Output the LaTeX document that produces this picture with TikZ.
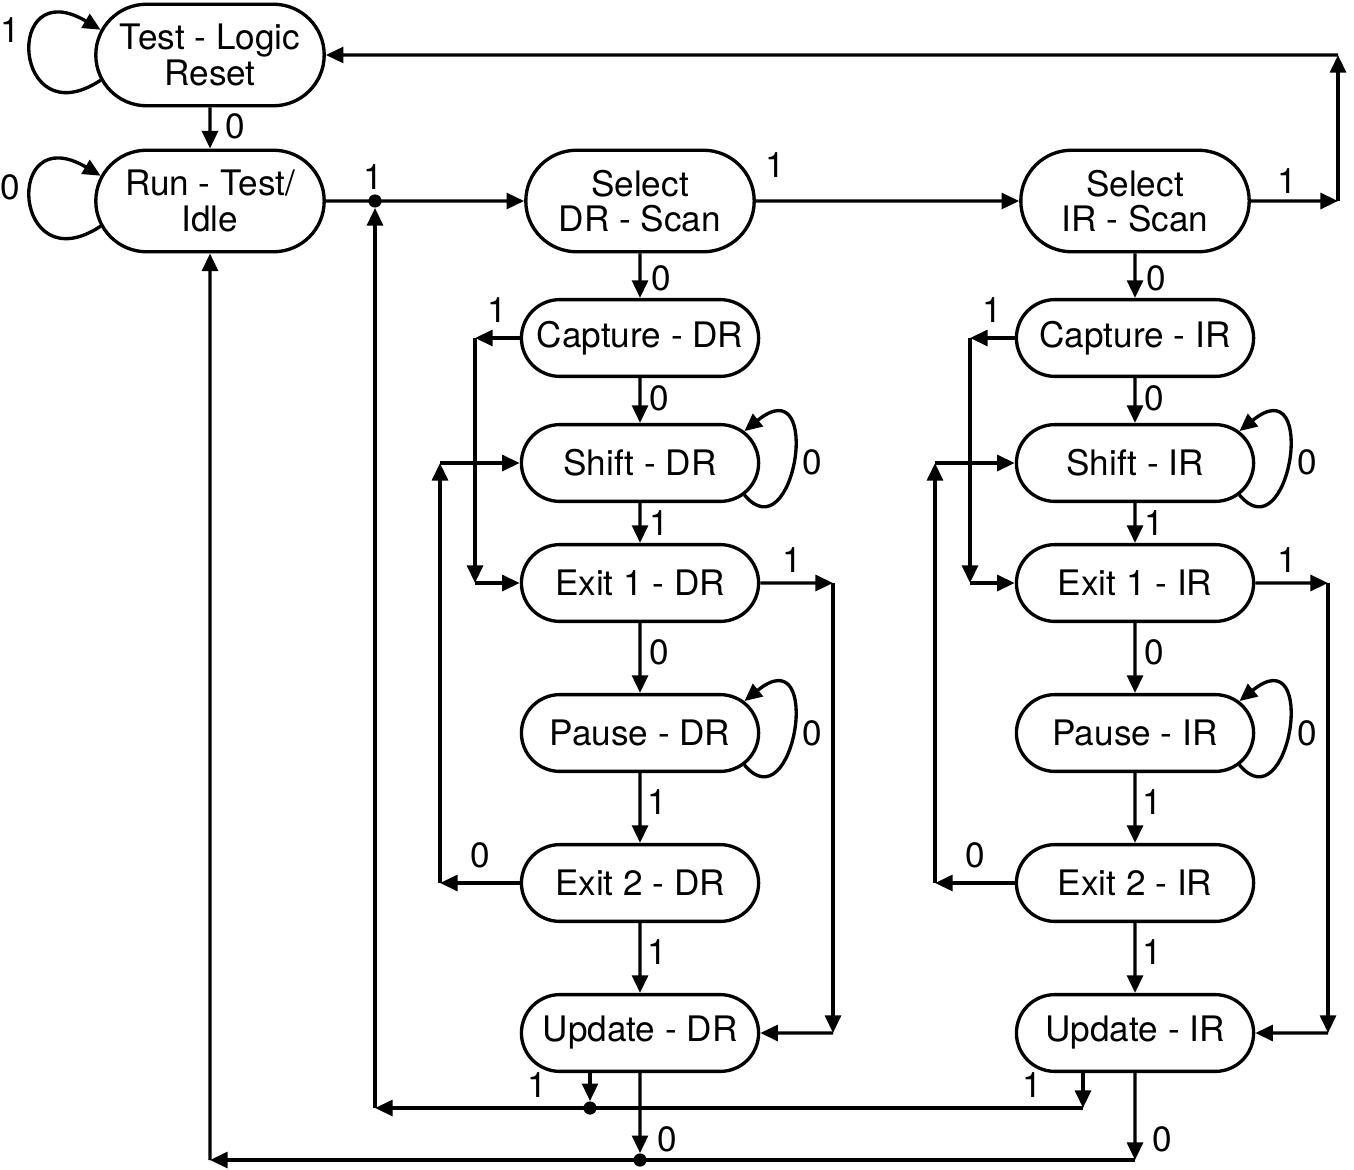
\documentclass[tikz,border=0pt]{standalone}
\usepackage{fontspec}
\setmainfont{TeX Gyre Heros}
\usetikzlibrary{arrows.meta,shapes.misc,positioning}
\tikzset{state/.style={
         draw,shape=rounded rectangle,line width=1.9pt,inner sep=0pt,
         minimum width=135pt,minimum height=43.7pt,align=center,
         font=\fontsize{20}{20}\selectfont}}
\tikzset{statebig/.style={
         state,minimum width=130pt,minimum height=57.8pt}}
\tikzset{arr/.style={
         line width=1.9pt,-{Triangle[length=10pt,width=9pt]}}}
\tikzset{dot/.style={
         shape=circle,fill=black,minimum size=7.5pt,inner sep=0pt}}
\tikzset{lbl/.style={
         inner sep=0pt,font=\fontsize{20}{20}\selectfont}}

\begin{document}
\begin{tikzpicture}[x=0.02cm,y=-0.02cm]
\useasboundingbox (0,0) rectangle (1354,1169);

% reset / idle
\node[statebig] (tlr) at (210,55) {Test - Logic\\Reset};
\node[statebig] (rti) at (210,201) {Run - Test/\\Idle};
\node[dot] (d1) at (375,201) {};
\node[dot] (d2) at (590,1108) {};
\node[dot] (d3) at (640,1160) {};
\coordinate (r1) at (1338,201);
\coordinate (r2) at (1338,55);
\coordinate (b1) at (375,1108);
\coordinate (b2) at (210,1160);
\coordinate (u2) at (1083,1108);
\coordinate (u3) at (1135,1160);

% DR and IR columns
\foreach \c/\x/\reg in {dr/640/DR,ir/1135/IR} {
  \node[statebig] (s\c) at (\x,201) {Select\\\reg{} - Scan};
  \node[state] (c\c) at (\x,338) {Capture - \reg};
  \node[state] (sh\c) at (\x,463) {Shift - \reg};
  \node[state] (e1\c) at (\x,583) {Exit 1 - \reg};
  \node[state] (p\c) at (\x,733) {Pause - \reg};
  \node[state] (e2\c) at (\x,883) {Exit 2 - \reg};
  \node[state] (u\c) at (\x,1033) {Update - \reg};
  \draw[arr] (s\c) -- (c\c);
  \draw[arr] (c\c) -- (sh\c);
  \draw[arr] (sh\c) -- (e1\c);
  \draw[arr] (e1\c) -- (p\c);
  \draw[arr] (p\c) -- (e2\c);
  \draw[arr] (e2\c) -- (u\c);
  % capture -> exit 1
  \coordinate (ca\c) at (\x-165,338);
  \coordinate (cb\c) at (\x-165,583);
  \draw[arr] (c\c) -- (ca\c);
  \draw[arr] (ca\c) -- (cb\c);
  \draw[arr] (cb\c) -- (e1\c);
  % exit 2 -> shift
  \coordinate (xa\c) at (\x-200,883);
  \coordinate (xb\c) at (\x-200,463);
  \draw[arr] (e2\c) -- (xa\c);
  \draw[arr] (xa\c) -- (xb\c);
  \draw[arr] (xb\c) -- (sh\c);
  % exit 1 -> update
  \coordinate (ea\c) at (\x+193,583);
  \coordinate (eb\c) at (\x+193,1033);
  \draw[arr] (e1\c) -- (ea\c);
  \draw[arr] (ea\c) -- (eb\c);
  \draw[arr] (eb\c) -- (u\c);
  % self loops
  \draw[arr] (sh\c.-17) .. controls +(50,60) and +(80,-65) .. (sh\c.17);
  \draw[arr] (p\c.-17) .. controls +(50,60) and +(80,-65) .. (p\c.17);
  % labels
  \node[lbl] (lsc\c) at (\x+21,278) {0};
  \node[lbl] (lca\c) at (\x-143,310) {1};
  \node[lbl] (lcs\c) at (\x+19,398) {0};
  \node[lbl] (lsh\c) at (\x+172,462) {0};
  \node[lbl] (lse\c) at (\x+19,523) {1};
  \node[lbl] (lea\c) at (\x+152,560) {1};
  \node[lbl] (lep\c) at (\x+19,652) {0};
  \node[lbl] (lpa\c) at (\x+172,733) {0};
  \node[lbl] (lpe\c) at (\x+17,802) {1};
  \node[lbl] (lxa\c) at (\x-160,855) {0};
  \node[lbl] (leu\c) at (\x+17,952) {1};
  \node[lbl] (lua\c) at (\x-103,1085) {1};
  \node[lbl] (lub\c) at (\x+27,1139) {0};
}

% top row
\draw[arr] (tlr) -- (rti);
\draw[arr] (rti) -- (sdr);
\draw[arr] (sdr) -- (sir);
\draw[arr] (sir) -- (r1);
\draw[arr] (r1) -- (r2);
\draw[arr] (r2) -- (tlr);
\draw[arr] (tlr.193) .. controls +(-88,58) and +(-98,-58) .. (tlr.167);
\draw[arr] (rti.193) .. controls +(-88,58) and +(-98,-58) .. (rti.167);

% back to idle
\draw[arr] (udr.south -| d2) -- (d2);
\draw[arr] (uir.south -| u2) -- (u2);
\draw[arr] (u2) -- (b1);
\draw[arr] (b1) -- (d1);
\draw[arr] (udr) -- (d3);
\draw[arr] (uir) -- (u3);
\draw[arr] (u3) -- (b2);
\draw[arr] (b2) -- (rti);

\foreach \n/\x/\y/\v in {a/10/30/1,b/235/126/0,c/10/187/0,d/373/177/1,e/775/165/1,f/1287/181/1}
  {\node[lbl] (lt\n) at (\x,\y) {\v};}
\end{tikzpicture}
\end{document}
